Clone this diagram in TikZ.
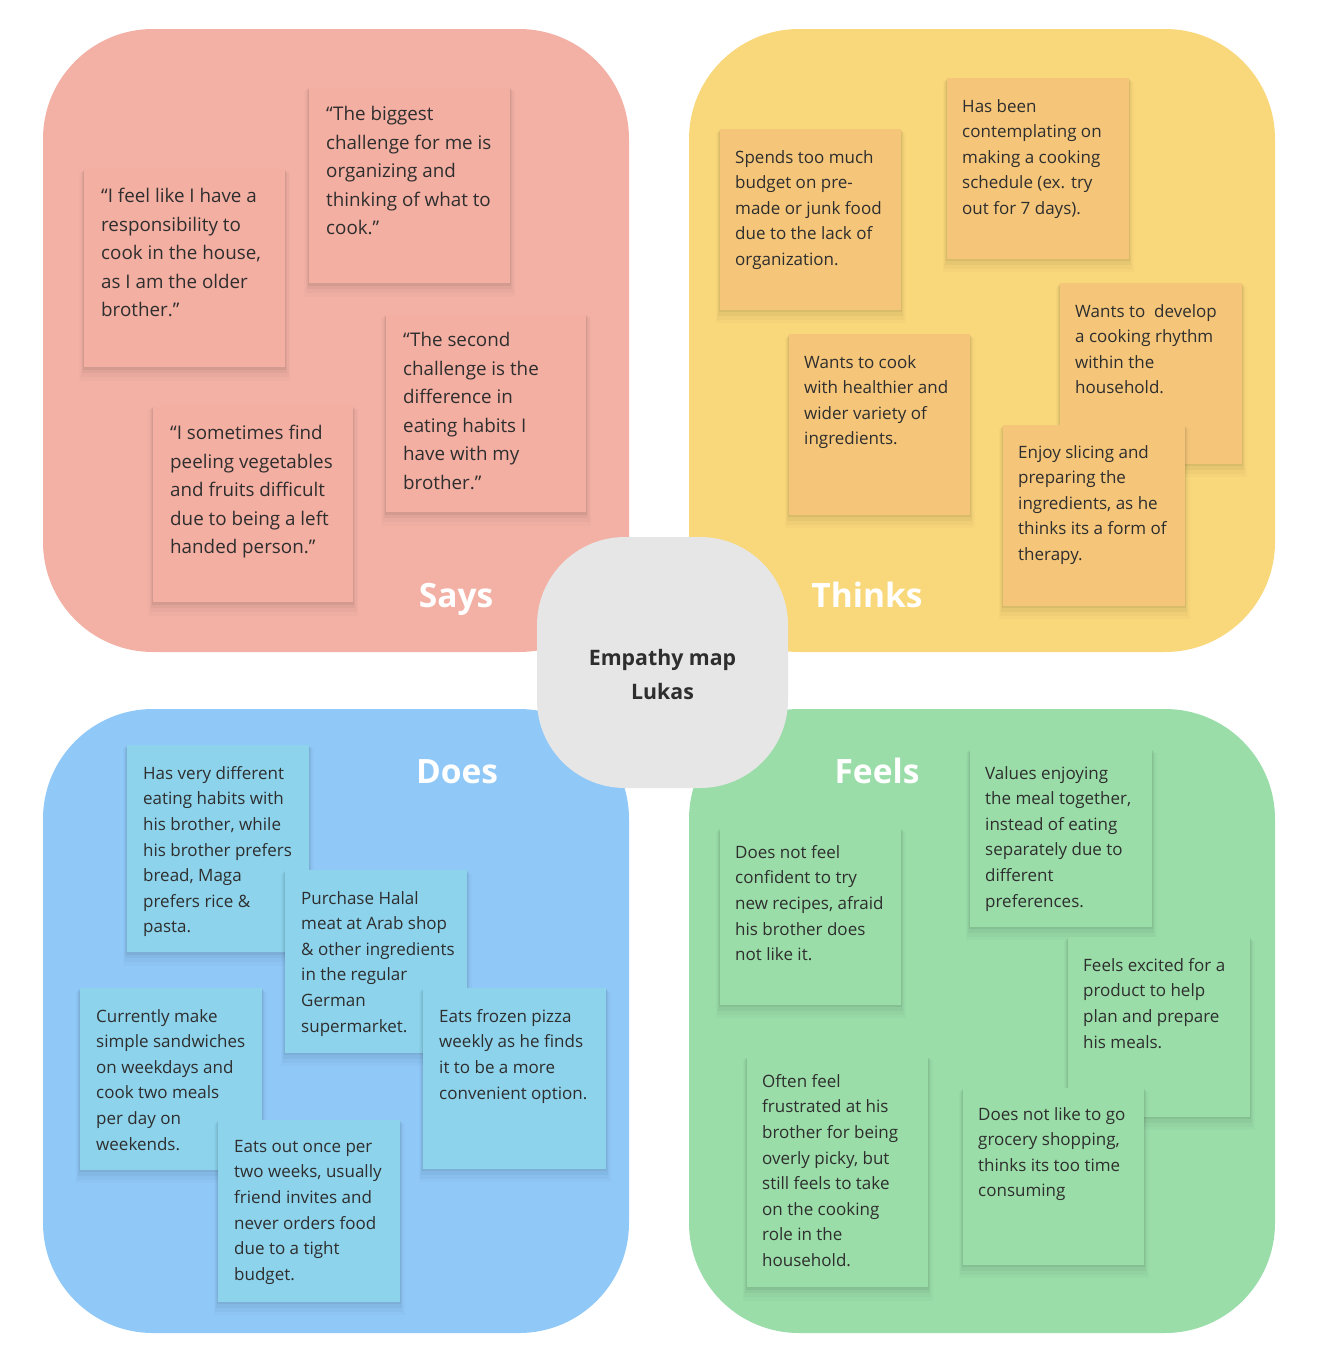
\documentclass[tikz,border=0pt]{standalone}
\usepackage{fontspec}
\setmainfont{Open Sans}
\usetikzlibrary{positioning,shadows}

\definecolor{saysbg}{HTML}{F3B1A5}
\definecolor{saysnote}{HTML}{F4AFA3}
\definecolor{thinksbg}{HTML}{F9D87B}
\definecolor{thinksnote}{HTML}{F5C67A}
\definecolor{doesbg}{HTML}{90C8F7}
\definecolor{doesnote}{HTML}{8DD3EC}
\definecolor{feelsbg}{HTML}{9ADDA9}
\definecolor{feelsnote}{HTML}{9ADDA8}
\definecolor{hubgray}{HTML}{E6E6E6}
\definecolor{ink}{HTML}{2E2E2E}

\begin{document}
\begin{tikzpicture}[x=1pt,y=-1pt,
  quad/.style={rounded corners=110pt},
  softshadow/.style={
    general shadow={fill=black,opacity=0.05,shadow yshift=-1.5pt,shadow scale=1.008},
    general shadow={fill=black,opacity=0.035,shadow yshift=-3.5pt,shadow scale=1.02},
    general shadow={fill=black,opacity=0.025,shadow yshift=-6pt,shadow scale=1.035},
    general shadow={fill=black,opacity=0.015,shadow yshift=-8pt,shadow scale=1.05}},
  note/.style={anchor=north west,inner sep=0pt,softshadow},
  says/.style={note,fill=saysnote},
  thinks/.style={note,fill=thinksnote},
  does/.style={note,fill=doesnote},
  feels/.style={note,fill=feelsnote},
  notetext/.style={inner sep=0pt,align=left,text=ink,font=\fontsize{17}{25.6}\selectfont},
  saystext/.style={notetext,font=\fontsize{18.8}{28.6}\selectfont},
  heading/.style={anchor=base,text=white,font=\bfseries\fontsize{33.5}{40}\selectfont}]
\fill[white] (0,0) rectangle (1322,1368);
\useasboundingbox (0,0) rectangle (1322,1368);
% quadrants
\fill[saysbg,quad] (43,29) rectangle (629,652);
\fill[thinksbg,quad] (689,29) rectangle (1275,652);
\fill[doesbg,quad] (43,709) rectangle (629,1333);
\fill[feelsbg,quad] (689,709) rectangle (1275,1333);
% centre
\node[fill=hubgray,rounded corners=88pt,minimum size=251pt,inner sep=0pt] (hub) at (662.5,662.5) {};
\node[align=center,text=ink,font=\bfseries\fontsize{21.3}{34}\selectfont] (hubtext) at (662.5,675) {Empathy map\\Lukas};
% headings
\node[heading] (sayslabel) at (456,607) {Says};
\node[heading] (thinkslabel) at (867,607) {Thinks};
\node[heading] (doeslabel) at (457,783) {Does};
\node[heading] (feelslabel) at (877,783) {Feels};

% Says
\node[says,minimum width=201pt,minimum height=198pt] (s1) at (84,169) {};
\node[saystext,below right=19pt and 17pt of s1.north west] (s1t) {“I feel like I have a\\responsibility to\\cook in the house,\\as I am the older\\brother.”};
\node[says,minimum width=201pt,minimum height=196pt] (s2) at (309,87) {};
\node[saystext,below right=19pt and 17pt of s2.north west] (s2t) {“The biggest\\challenge for me is\\organizing and\\thinking of what to\\cook.”};
\node[says,minimum width=200pt,minimum height=198pt] (s3) at (386,314) {};
\node[saystext,below right=18pt and 17pt of s3.north west] (s3t) {“The second\\challenge is the\\difference in\\eating habits I\\have with my\\brother.”};
\node[says,minimum width=200pt,minimum height=196pt] (s4) at (153,406) {};
\node[saystext,below right=19pt and 17pt of s4.north west] (s4t) {“I sometimes find\\peeling vegetables\\and fruits difficult\\due to being a left\\handed person.”};

% Thinks
\node[thinks,minimum width=181pt,minimum height=181pt] (t1) at (720,129) {};
\node[notetext,below right=21pt and 15pt of t1.north west] (t1t) {Spends too much\\budget on pre-\\made or junk food\\due to the lack of\\organization.};
\node[thinks,minimum width=182pt,minimum height=181pt] (t2) at (947,78) {};
\node[notetext,below right=21pt and 15pt of t2.north west] (t2t) {Has been\\contemplating on\\making a cooking\\schedule (ex. try\\out for 7 days).};
\node[thinks,minimum width=182pt,minimum height=181pt] (t3) at (1060,283) {};
\node[notetext,below right=21pt and 15pt of t3.north west] (t3t) {Wants to\ \ develop\\a cooking rhythm\\within the\\household.};
\node[thinks,minimum width=181pt,minimum height=181pt] (t4) at (789,334) {};
\node[notetext,below right=21pt and 15pt of t4.north west] (t4t) {Wants to cook\\with healthier and\\wider variety of\\ingredients.};
\node[thinks,minimum width=182pt,minimum height=181pt] (t5) at (1003,425) {};
\node[notetext,below right=20pt and 15pt of t5.north west] (t5t) {Enjoy slicing and\\preparing the\\ingredients, as he\\thinks its a form of\\therapy.};

% Does
\node[does,minimum width=182pt,minimum height=207pt] (d1) at (127,745) {};
\node[notetext,below right=21pt and 16pt of d1.north west] (d1t) {Has very different\\eating habits with\\his brother, while\\his brother prefers\\bread, Maga\\prefers rice \&\\pasta.};
\node[does,minimum width=182pt,minimum height=183pt] (d2) at (285,870) {};
\node[notetext,below right=21pt and 16pt of d2.north west] (d2t) {Purchase Halal\\meat at Arab shop\\\& other ingredients\\in the regular\\German\\supermarket.};
\node[does,minimum width=182pt,minimum height=182pt] (d3) at (80,988) {};
\node[notetext,below right=21pt and 16pt of d3.north west] (d3t) {Currently make\\simple sandwiches\\on weekdays and\\cook two meals\\per day on\\weekends.};
\node[does,minimum width=183pt,minimum height=181pt] (d4) at (423,988) {};
\node[notetext,below right=21pt and 16pt of d4.north west] (d4t) {Eats frozen pizza\\weekly as he finds\\it to be a more\\convenient option.};
\node[does,minimum width=182pt,minimum height=182pt] (d5) at (218,1120) {};
\node[notetext,below right=20pt and 16pt of d5.north west] (d5t) {Eats out once per\\two weeks, usually\\friend invites and\\never orders food\\due to a tight\\budget.};

% Feels
\node[feels,minimum width=181pt,minimum height=177pt] (f1) at (720,828) {};
\node[notetext,below right=17pt and 15pt of f1.north west] (f1t) {Does not feel\\confident to try\\new recipes, afraid\\his brother does\\not like it.};
\node[feels,minimum width=182pt,minimum height=178pt] (f2) at (970,749) {};
\node[notetext,below right=17pt and 15pt of f2.north west] (f2t) {Values enjoying\\the meal together,\\instead of eating\\separately due to\\different\\preferences.};
\node[feels,minimum width=182pt,minimum height=180pt] (f3) at (1068,937) {};
\node[notetext,below right=21pt and 15pt of f3.north west] (f3t) {Feels excited for a\\product to help\\plan and prepare\\his meals.};
\node[feels,minimum width=181pt,minimum height=230pt] (f4) at (747,1057) {};
\node[notetext,below right=17pt and 15pt of f4.north west] (f4t) {Often feel\\frustrated at his\\brother for being\\overly picky, but\\still feels to take\\on the cooking\\role in the\\household.};
\node[feels,minimum width=181pt,minimum height=177pt] (f5) at (963,1088) {};
\node[notetext,below right=19pt and 15pt of f5.north west] (f5t) {Does not like to go\\grocery shopping,\\thinks its too time\\consuming};
\end{tikzpicture}
\end{document}
